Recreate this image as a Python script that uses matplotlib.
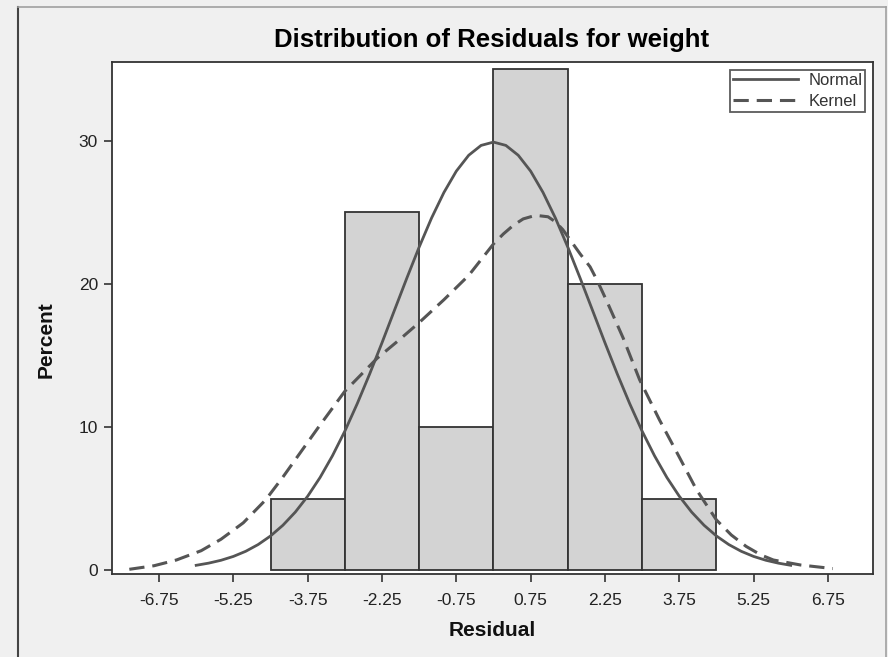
import matplotlib
matplotlib.use("Agg")
import matplotlib.pyplot as plt
from matplotlib.lines import Line2D

plt.rcParams['font.family'] = ['Liberation Sans', 'DejaVu Sans']

# histogram (percent per bin, bin width 1.5)
bin_edges = [-4.5, -3.0, -1.5, 0.0, 1.5, 3.0, 4.5]
bar_pct = [5, 25, 10, 35, 20, 5]

# normal curve
normal_x = [-6.0, -5.75, -5.5, -5.25, -5.0, -4.75, -4.5, -4.25, -4.0, -3.75, -3.5, -3.25,
            -3.0, -2.75, -2.5, -2.25, -2.0, -1.75, -1.5, -1.25, -1.0, -0.75, -0.5, -0.25,
            0.0, 0.25, 0.5, 0.75, 1.0, 1.25, 1.5, 1.75, 2.0, 2.25, 2.5, 2.75,
            3.0, 3.25, 3.5, 3.75, 4.0, 4.25, 4.5, 4.75, 5.0, 5.25, 5.5, 5.75, 6.0]
normal_y = [0.33, 0.48, 0.68, 0.95, 1.31, 1.78, 2.38, 3.13, 4.05, 5.16, 6.47, 7.99,
            9.71, 11.63, 13.70, 15.89, 18.15, 20.40, 22.58, 24.61, 26.40, 27.89, 29.00, 29.69,
            29.92, 29.69, 29.00, 27.89, 26.40, 24.61, 22.58, 20.40, 18.15, 15.89, 13.70, 11.63,
            9.71, 7.99, 6.47, 5.16, 4.05, 3.13, 2.38, 1.78, 1.31, 0.95, 0.68, 0.48, 0.33]

# kernel curve
kernel_x = [-7.35, -6.85, -6.4, -5.9, -5.5, -5.05, -4.6, -4.25, -3.9, -3.55, -3.0, -2.35,
            -1.9, -1.5, -1.0, -0.5, -0.25, 0.0, 0.2, 0.4, 0.6, 0.85, 1.1, 1.25, 1.4, 1.75, 1.95, 2.1,
            2.3, 2.62, 2.95, 3.35, 3.75, 4.1, 4.5, 4.8, 5.1, 5.4, 5.65, 6.2, 6.85]
kernel_y = [0.05, 0.3, 0.7, 1.35, 2.15, 3.3, 4.9, 6.5, 8.2, 9.9, 12.5, 14.8,
            16.1, 17.3, 18.9, 20.6, 21.7, 22.8, 23.5, 24.1, 24.55, 24.8, 24.7, 24.35, 23.8, 22.1, 21.2, 20.2,
            18.7, 16.2, 13.3, 10.5, 7.9, 5.6, 3.5, 2.45, 1.65, 1.05, 0.7, 0.35, 0.1]

xticks = [-6.75, -5.25, -3.75, -2.25, -0.75, 0.75, 2.25, 3.75, 5.25, 6.75]
yticks = [0, 10, 20, 30]

curve_col = '#555555'
edge_col = '#333333'

fig = plt.figure(figsize=(8.88, 6.57), dpi=100, facecolor='#f0f0f0')
ax = fig.add_axes([0.1261, 0.1263, 0.857, 0.7793])
ax.set_facecolor('white')

widths = [bin_edges[i + 1] - bin_edges[i] for i in range(len(bar_pct))]
ax.bar(bin_edges[:-1], bar_pct, width=widths, align='edge',
       color='#d3d3d3', edgecolor=edge_col, linewidth=1.3, zorder=2)

ax.plot(normal_x, normal_y, '-', color=curve_col, lw=2.0, zorder=3, label='Normal')
ax.plot(kernel_x, kernel_y, '--', color=curve_col, lw=2.2, dashes=(5, 2.6), zorder=3, label='Kernel')

ax.set_xlim(-7.70, 7.66)
ax.set_ylim(-0.28, 35.52)
ax.set_xticks(xticks)
ax.set_xticklabels(['%.2f' % v for v in xticks])
ax.set_yticks(yticks)

for s in ax.spines.values():
    s.set_color('#333333')
    s.set_linewidth(1.3)
ax.tick_params(axis='both', direction='out', length=6, width=1.2, color='#333333',
               labelsize=12.5, labelcolor='#222222')
ax.tick_params(axis='x', pad=8)
ax.tick_params(axis='y', pad=4)

leg = ax.legend(loc='upper right', fontsize=12, frameon=True, fancybox=False,
                handlelength=3.9, handletextpad=0.6, borderpad=0.2, labelspacing=0.35,
                borderaxespad=0.45)
leg.get_frame().set_edgecolor('#333333')
leg.get_frame().set_linewidth(1.3)
for t in leg.get_texts():
    t.set_color('#333333')

fig.text(0.554, 0.939, 'Distribution of Residuals for weight', ha='center', va='center',
         fontsize=18.5, fontweight='bold', color='black')
fig.text(0.554, 0.040, 'Residual', ha='center', va='center',
         fontsize=15, fontweight='bold', color='#111111')
fig.text(0.052, 0.483, 'Percent', ha='center', va='center', rotation=90,
         fontsize=15, fontweight='bold', color='#111111')

# outer panel border
fig.add_artist(Line2D([18 / 888, 18 / 888], [0, 1 - 7 / 657], transform=fig.transFigure,
                      color='#444444', lw=1.5))
fig.add_artist(Line2D([18 / 888, 886 / 888], [1 - 7 / 657, 1 - 7 / 657], transform=fig.transFigure,
                      color='#a0a0a0', lw=1.2))
fig.add_artist(Line2D([886 / 888, 886 / 888], [0, 1 - 7 / 657], transform=fig.transFigure,
                      color='#a0a0a0', lw=1.2))

fig.savefig('out.png', dpi=100, facecolor=fig.get_facecolor())
